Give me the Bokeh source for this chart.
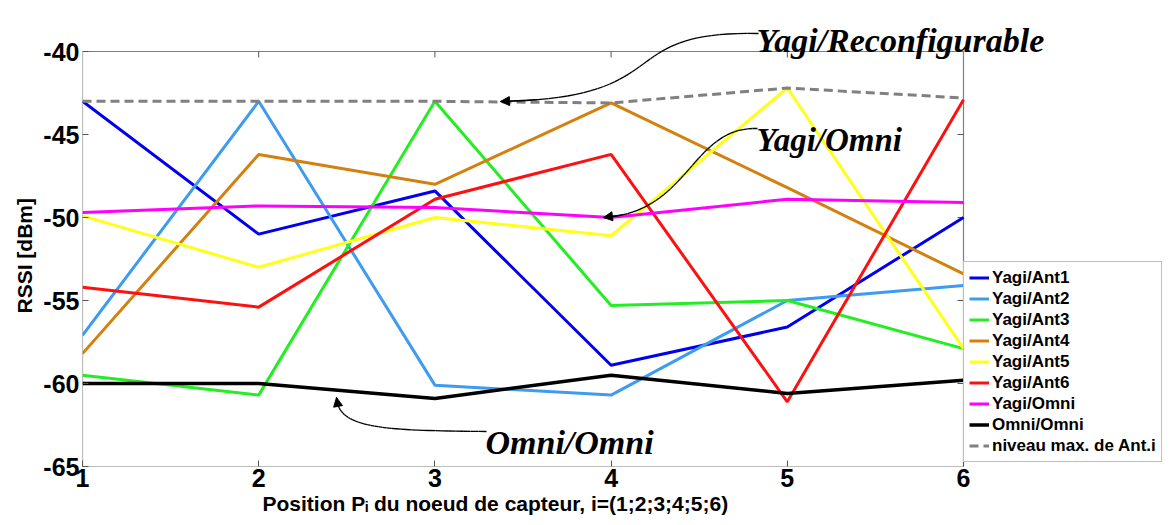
import numpy as np
from bokeh.plotting import figure
from bokeh.models import (Range1d, Legend, LegendItem, Label, Arrow, Title,
                          NormalHead, FixedTicker, ColumnDataSource, PrintfTickFormatter)
from bokeh.embed import file_html
from bokeh.resources import INLINE

# ---------------- data ----------------
positions = [1, 2, 3, 4, 5, 6]
yagi_ant1 = [-43.0, -51.0, -48.4, -58.9, -56.6, -50.0]
yagi_ant2 = [-57.1, -43.0, -60.1, -60.7, -55.0, -54.1]
yagi_ant3 = [-59.5, -60.7, -43.0, -55.3, -55.0, -57.9]
yagi_ant4 = [-58.2, -46.2, -48.0, -43.1, -48.2, -53.4]
yagi_ant5 = [-49.9, -53.0, -50.0, -51.1, -42.2, -57.9]
yagi_ant6 = [-54.2, -55.4, -48.9, -46.2, -61.1, -42.9]
yagi_omni = [-49.7, -49.3, -49.4, -50.0, -48.9, -49.1]
omni_omni = [-60.0, -60.0, -60.9, -59.5, -60.6, -59.8]
max_ant = [-43.0, -43.0, -43.0, -43.1, -42.2, -42.8]

series_names = ["Yagi/Ant1", "Yagi/Ant2", "Yagi/Ant3", "Yagi/Ant4", "Yagi/Ant5",
                "Yagi/Ant6", "Yagi/Omni", "Omni/Omni", "niveau max. de Ant.i"]
y_ticks = [-65, -60, -55, -50, -45, -40]
x_label = "Position P\u1d62 du noeud de capteur, i=(1;2;3;4;5;6)"
y_label = "RSSI [dBm]"

# ---------------- styles ----------------
colors = ["#0000ee", "#3d9cf0", "#22ee22", "#d4800f", "#ffff1a", "#ff1010",
          "#ff00ff", "#000000", "#808080"]
SANS = "Liberation Sans"
SERIF = "Liberation Serif"
GRAY = "#7f7f7f"
TICK = "#555555"

W, H = 1163, 517
# axes box position on the canvas (pixels)
X0_PX, X1_PX = 82, 963
Y0_PX, Y1_PX = 51, 466
XMIN, XMAX = positions[0], positions[-1]
YMIN, YMAX = y_ticks[0], y_ticks[-1]
DX = (XMAX - XMIN) / (X1_PX - X0_PX)   # data per px
DY = (YMAX - YMIN) / (Y1_PX - Y0_PX)


def px2x(px):
    return XMIN + (px - X0_PX) * DX


def py2y(py):
    return YMAX - (py - Y0_PX) * DY


# frame extended to the top and right edges of the canvas so that
# the legend and annotations placed there are not clipped
p = figure(width=W, height=H, output_backend="svg", toolbar_location=None,
           x_range=Range1d(XMIN, px2x(W)), y_range=Range1d(YMIN, py2y(0)),
           min_border_left=X0_PX, min_border_right=0,
           min_border_top=0, min_border_bottom=H - Y1_PX)
p.background_fill_color = "white"
p.border_fill_color = "white"
p.outline_line_color = None
p.xgrid.visible = False
p.ygrid.visible = False

for ax in (p.xaxis[0], p.yaxis[0]):
    ax.axis_line_color = None
    ax.major_tick_line_color = TICK
    ax.major_tick_in = 6
    ax.major_tick_out = 0
    ax.minor_tick_line_color = None
    ax.major_label_text_font = SANS
    ax.major_label_text_font_style = "bold"
    ax.major_label_text_font_size = "25px"
    ax.major_label_text_color = "black"
    ax.formatter = PrintfTickFormatter(format="%d")

p.xaxis[0].ticker = FixedTicker(ticks=positions)
p.yaxis[0].ticker = FixedTicker(ticks=y_ticks)
p.xaxis[0].major_label_standoff = 2
p.yaxis[0].major_label_standoff = 3

# axes box
p.quad(left=XMIN, right=XMAX, bottom=YMIN, top=YMAX, fill_color=None,
       line_color=GRAY, line_width=1.2)
# mirrored ticks on the top and right edges
p.segment(x0=positions[1:-1], y0=[YMAX] * 4, x1=positions[1:-1], y1=[YMAX - 6 * DY] * 4,
          line_color=TICK, line_width=1)
p.segment(x0=[XMAX] * 4, y0=y_ticks[1:-1], x1=[XMAX - 6 * DX] * 4, y1=y_ticks[1:-1],
          line_color=TICK, line_width=1)

all_series = [yagi_ant1, yagi_ant2, yagi_ant3, yagi_ant4, yagi_ant5, yagi_ant6,
              yagi_omni, omni_omni, max_ant]
renderers = []
for i, (name, vals, col) in enumerate(zip(series_names, all_series, colors)):
    if i == 8:
        r = p.line(positions, vals, line_color=col, line_width=3, line_dash="9 5")
    elif i == 7:
        r = p.line(positions, vals, line_color=col, line_width=3.5)
    else:
        r = p.line(positions, vals, line_color=col, line_width=3)
    renderers.append(r)

legend = Legend(items=[LegendItem(label=n, renderers=[r]) for n, r in zip(series_names, renderers)],
                location=(X1_PX - X0_PX, Y1_PX - 462), orientation="vertical",
                label_text_font=SANS, label_text_font_style="bold",
                label_text_font_size="17px", label_text_color="black",
                glyph_width=20, glyph_height=21, label_height=21, spacing=0,
                padding=5, margin=0, label_standoff=3,
                border_line_color=GRAY, border_line_width=1,
                background_fill_color="white", background_fill_alpha=1)
p.add_layout(legend)

# axis titles
p.add_layout(Title(text=y_label, align="left", offset=Y1_PX - 313,
                   text_font=SANS, text_font_style="bold", text_font_size="21px",
                   text_color="black", standoff=9), "left")
p.add_layout(Title(text=x_label, align="left", offset=262 - X0_PX,
                   text_font=SANS, text_font_style="bold", text_font_size="21px",
                   text_color="black", standoff=0), "below")

# ---------------- annotations ----------------


def bezier(p0, c1, c2, p3, n=40):
    t = np.linspace(0, 1, n)
    pts = []
    for a, b, c, d in zip(p0, c1, c2, p3):
        pts.append((1 - t) ** 3 * a + 3 * (1 - t) ** 2 * t * b + 3 * (1 - t) * t ** 2 * c + t ** 3 * d)
    return pts[0], pts[1]


def curve_arrow(p0, c1, c2, p3):
    xs, ys = bezier(p0, c1, c2, p3)
    X = [px2x(v) for v in xs]
    Y = [py2y(v) for v in ys]
    src = ColumnDataSource(dict(x0=X[:-1], y0=Y[:-1], x1=X[1:], y1=Y[1:]))
    p.add_layout(Arrow(end=None, source=src, x_start="x0", y_start="y0",
                       x_end="x1", y_end="y1", line_color="black", line_width=1.3))
    p.add_layout(Arrow(end=NormalHead(size=9, fill_color="black", line_color="black", line_width=1),
                       x_start=X[-4], y_start=Y[-4], x_end=X[-1], y_end=Y[-1],
                       line_color="black", line_width=1.3))


curve_arrow((758, 33), (610, 30), (680, 98), (500, 101))
curve_arrow((757, 128), (690, 126), (690, 212), (603, 217))
curve_arrow((486, 431), (380, 430), (338, 428), (336, 397))

for txt, xp, yp, fs in [("Yagi/Reconfigurable", 756, 40, "34px"),
                        ("Yagi/Omni", 756, 139, "33px"),
                        ("Omni/Omni", 485, 442, "34px")]:
    p.add_layout(Label(x=px2x(xp), y=py2y(yp), text=txt, text_font=SERIF,
                       text_font_style="bold italic", text_font_size=fs,
                       text_color="black", text_align="left", text_baseline="alphabetic"))

open("out.html", "w").write(file_html(p, INLINE))
